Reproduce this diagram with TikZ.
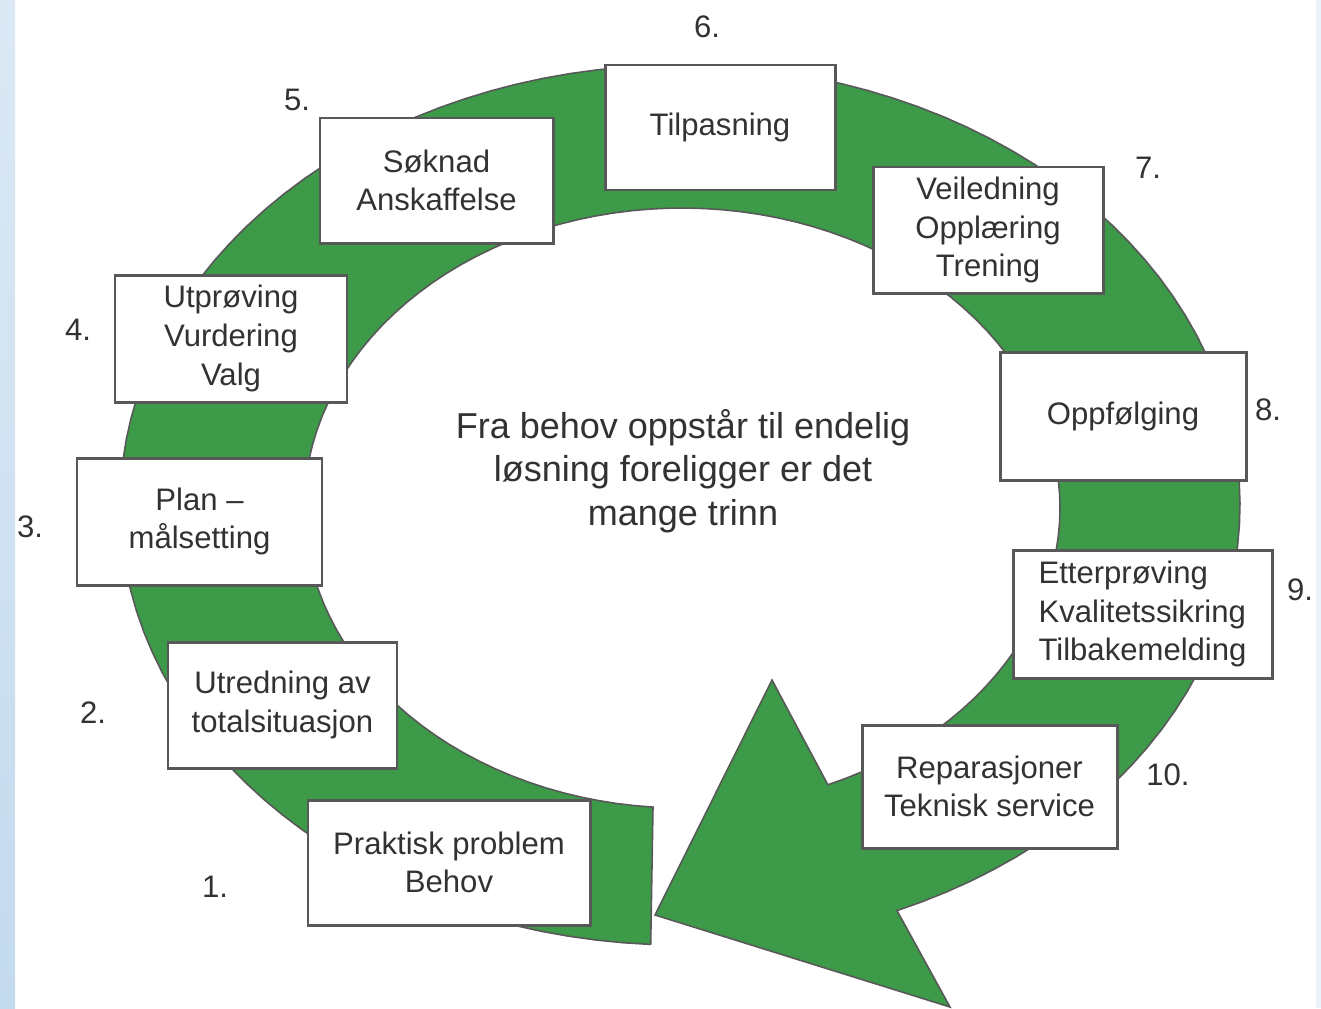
\documentclass[tikz,border=0pt]{standalone}
\usepackage{fontspec}
\setmainfont{Liberation Sans}
\usetikzlibrary{calc}
\definecolor{ringgreen}{RGB}{60,154,72}
\definecolor{boxline}{RGB}{88,88,88}
\definecolor{txtgray}{RGB}{50,50,50}
\definecolor{skyblue}{RGB}{196,218,238}
\tikzset{
  trinnboks/.style={draw=boxline, fill=white, line width=1.7pt, inner sep=0pt,
    align=center, text=txtgray, font=\fontsize{17.7}{22}\selectfont},
  nummer/.style={text=txtgray, font=\fontsize{17.7}{22}\selectfont}
}
\newcommand\trinn[7][]{% options, name, x, y, width, height, text
\node (#2) at (#3,#4) [trinnboks, minimum width=#5*0.02cm, minimum height=#6*0.02cm, #1] {#7};}

\begin{document}
\begin{tikzpicture}[x=0.02cm,y=-0.02cm]
      \useasboundingbox (0,0) rectangle (1321,1008);
      \fill[white] (0,0) rectangle (1321,1008);
      \shade[top color=skyblue!60, bottom color=skyblue] (0,0) rectangle (15,1008);
      \fill[skyblue!35] (1316,0) rectangle (1321,1008);

      % ring with arrow head
      \filldraw[fill=ringgreen, draw=boxline, line width=0.9pt, line join=miter]
        plot[domain=93:427.2, samples=120] ({680+560*cos(\x)},{505+440*sin(\x)})
        -- (950,1007) -- (655,915) -- (772,680)
        -- plot[domain=427.3:94.4, samples=120] ({682+378*cos(\x)},{508+300*sin(\x)})
        -- cycle;

      \node (midt) at (683,471) [align=center, text=txtgray, font=\fontsize{20.5}{24.7}\selectfont]
        {Fra behov oppstår til endelig\\løsning foreligger er det\\mange trinn};

      \trinn{t1}{449}{862.5}{282}{125}{Praktisk problem\\Behov}
      \trinn{t2}{282.5}{705}{229}{126}{Utredning av\\totalsituasjon}
      \trinn{t3}{199.5}{521.5}{245}{127}{Plan --\\målsetting}
      \trinn{t4}{231}{338.5}{232}{127}{Utprøving\\Vurdering\\Valg}
      \trinn{t5}{436.5}{180.5}{233}{125}{Søknad\\Anskaffelse}
      \trinn{t6}{720}{127.5}{230}{125}{Tilpasning}
      \trinn{t7}{988}{230}{230}{126}{Veiledning\\Opplæring\\Trening}
      \trinn{t8}{1123}{416}{246}{128}{Oppfølging}
      \trinn[align=left]{t9}{1142.5}{614}{259}{128}{Etterprøving\\Kvalitetssikring\\Tilbakemelding}
      \trinn{t10}{989.5}{786.5}{255}{123}{Reparasjoner\\Teknisk service}

      \node (n1) at (215,887) [nummer] {1.};
      \node (n2) at (93,713) [nummer] {2.};
      \node (n3) at (30,527) [nummer] {3.};
      \node (n4) at (78,330) [nummer] {4.};
      \node (n5) at (297,100) [nummer] {5.};
      \node (n6) at (707,27) [nummer] {6.};
      \node (n7) at (1148,168) [nummer] {7.};
      \node (n8) at (1268,410) [nummer] {8.};
      \node (n9) at (1300,590) [nummer] {9.};
      \node (n10) at (1168,775) [nummer] {10.};
\end{tikzpicture}
\end{document}
